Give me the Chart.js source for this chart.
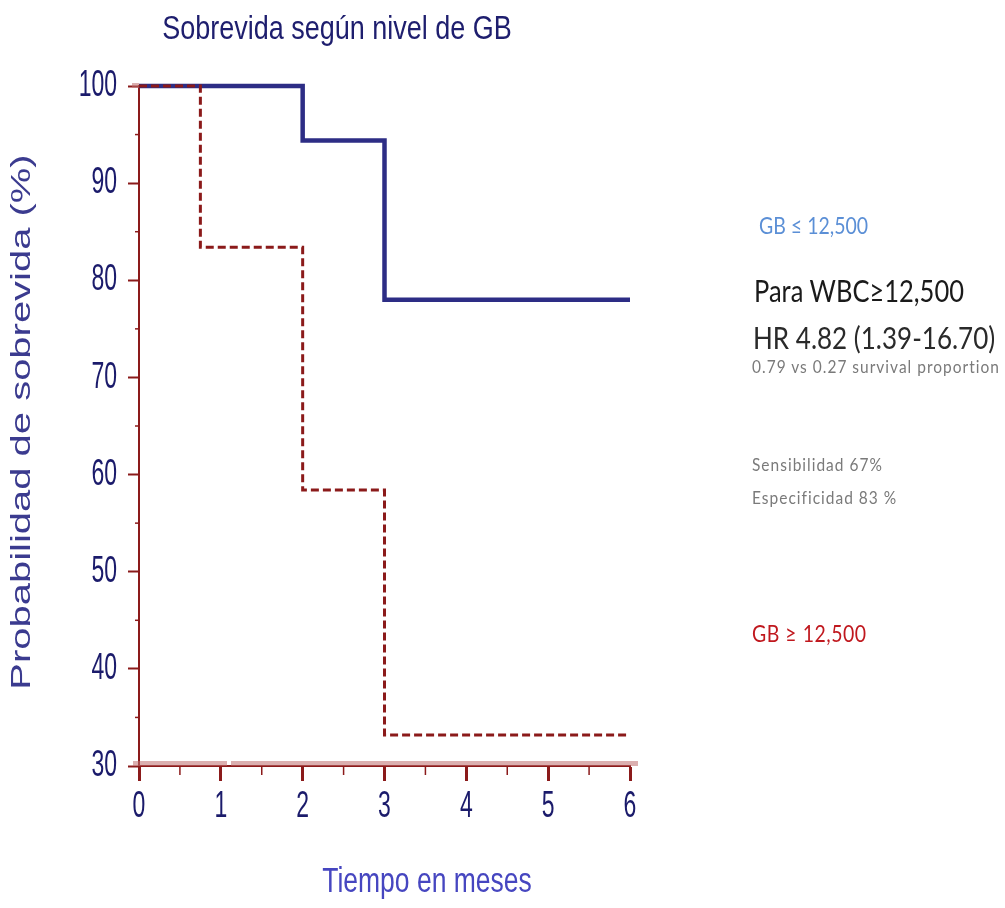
<!DOCTYPE html>
<html>
<head>
<meta charset="utf-8">
<script src="https://cdn.jsdelivr.net/npm/chart.js@4.4.1/dist/chart.umd.min.js"></script>
<style>
  html, body { margin: 0; padding: 0; background: #fff; }
  #wrap { position: relative; width: 1005px; height: 908px; }
  #km { position: absolute; left: 0; top: 0; }
  .note {
    position: absolute; left: 752px; white-space: nowrap; line-height: 1;
    font-family: Lato, "Open Sans", sans-serif;
    transform: translateY(-50%) scaleY(1.2); transform-origin: left center;
  }
  .small { font-size: 15.5px; letter-spacing: 1px; color: #7a7a7a; transform: translateY(-50%) scaleY(1.1); }
</style>
</head>
<body>
<div id="wrap">
  <canvas id="km" width="1005" height="908"></canvas>
  <div class="note" style="top:225px; left:759px; font-size:19.5px; color:#5b8fd6;">GB ≤ 12,500</div>
  <div class="note" style="top:291px; left:754px; font-size:25.5px; color:#1a1a1a;">Para WBC≥12,500</div>
  <div class="note" style="top:338px; left:753px; font-size:26px; color:#2a2a2a; transform: translateY(-50%) scaleY(1.15);">HR 4.82 (1.39-16.70)</div>
  <div class="note small" style="top:367px;">0.79 vs 0.27 survival proportion</div>
  <div class="note small" style="top:465px;">Sensibilidad 67%</div>
  <div class="note small" style="top:498px;">Especificidad 83 %</div>
  <div class="note" style="top:633px; font-size:19.5px; color:#c0181e; letter-spacing:0.5px;">GB ≥ 12,500</div>
</div>
<script>
// ================================
// DATA
// ================================
const chartTitle = "Sobrevida según nivel de GB";
const xTitle = "Tiempo en meses";
const yTitle = "Probabilidad de sobrevida (%)";

// GB <= 12,500 (solid blue)
const lowTimes = [0, 2, 3, 6];
const lowSurv = [100, 94.4, 78, 78];

// GB >= 12,500 (dashed red)
const highTimes = [0, 0.75, 2, 3, 6];
const highSurv = [100, 83.4, 58.4, 33.2, 33.2];

const xTicks = [0, 1, 2, 3, 4, 5, 6];
const yTicks = [30, 40, 50, 60, 70, 80, 90, 100];

const axisRed = "#8b1a1a";
const navy = "#1b1b6b";
const sans = "'Liberation Sans', Arial, sans-serif";

function toPoints(xs, ys) {
  return xs.map((x, i) => ({ x: x, y: ys[i] }));
}

// text squeezed like the original (tall, narrow glyphs)
function tallText(ctx, text, x, y, size, stretch, color, align) {
  ctx.save();
  ctx.font = size + "px " + sans;
  ctx.fillStyle = color;
  ctx.textAlign = align || "center";
  ctx.textBaseline = "middle";
  ctx.translate(x, y);
  ctx.scale(1, stretch);
  ctx.fillText(text, 0, 0);
  ctx.restore();
}

// ================================
// EXTRA DRAWING (titles, labels, minor ticks)
// ================================
const extras = {
  id: "extras",
  beforeDatasetsDraw(chart) {
    const { ctx, scales: { x, y } } = chart;
    ctx.save();
    // pale band along baseline
    ctx.fillStyle = "rgba(190,110,110,0.55)";
    ctx.fillRect(x.left - 6, y.bottom - 5, 94, 5);
    ctx.fillRect(x.left + 92, y.bottom - 5, x.right - x.left - 84, 5);
    ctx.fillRect(x.left - 7, y.top - 3, 7, 5);
    ctx.restore();
  },
  afterDraw(chart) {
    const { ctx, scales: { x, y } } = chart;
    ctx.save();
    // minor ticks
    ctx.strokeStyle = axisRed;
    ctx.lineWidth = 1.5;
    for (let i = 0; i < xTicks.length - 1; i++) {
      const px = x.getPixelForValue((xTicks[i] + xTicks[i + 1]) / 2);
      ctx.beginPath();
      ctx.moveTo(px, y.bottom);
      ctx.lineTo(px, y.bottom + 9);
      ctx.stroke();
    }
    for (let i = 0; i < yTicks.length - 1; i++) {
      const py = y.getPixelForValue((yTicks[i] + yTicks[i + 1]) / 2);
      ctx.beginPath();
      ctx.moveTo(x.left, py);
      ctx.lineTo(x.left - 4, py);
      ctx.stroke();
    }
    ctx.restore();

    // tick labels
    x.ticks.forEach(t => {
      tallText(ctx, String(t.value), x.getPixelForValue(t.value), y.bottom + 41, 23, 1.6, navy);
    });
    y.ticks.forEach(t => {
      tallText(ctx, String(t.value), x.left - 22, y.getPixelForValue(t.value), 23, 1.6, navy, "right");
    });

    // titles
    tallText(ctx, chartTitle, 337, 30, 27, 1.25, "#1e1e6e");
    tallText(ctx, xTitle, 427, 882, 26.5, 1.3, "#4646c0");

    // y title, stretched along its length
    ctx.save();
    ctx.translate(23, 422);
    ctx.rotate(-Math.PI / 2);
    ctx.scale(1.48, 1);
    ctx.font = "27px " + sans;
    ctx.fillStyle = "#3b3b8f";
    ctx.textAlign = "center";
    ctx.textBaseline = "middle";
    ctx.fillText(yTitle, 0, 0);
    ctx.restore();
  }
};

// ================================
// BUILD CHART
// ================================
new Chart(document.getElementById("km"), {
  type: "line",
  data: {
    datasets: [
      {
        label: "GB ≥ 12,500",
        data: toPoints(highTimes, highSurv),
        borderColor: axisRed,
        borderWidth: 3,
        borderDash: [8, 4],
        stepped: true,
        pointRadius: 0,
        fill: false,
        clip: false
      },
      {
        label: "GB ≤ 12,500",
        data: toPoints(lowTimes, lowSurv),
        borderColor: "#2d2d85",
        borderWidth: 4.5,
        stepped: true,
        pointRadius: 0,
        fill: false,
        clip: false
      }
    ]
  },
  options: {
    responsive: false,
    animation: false,
    layout: { padding: { top: 86, right: 375, left: 0, bottom: 0 } },
    plugins: {
      legend: { display: false },
      tooltip: { enabled: false }
    },
    scales: {
      x: {
        type: "linear",
        min: 0,
        max: 6,
        afterBuildTicks: s => { s.ticks = xTicks.map(v => ({ value: v })); },
        ticks: { display: false },
        grid: { drawOnChartArea: false, tickLength: 15, tickWidth: 3, tickColor: axisRed },
        border: { color: axisRed, width: 2 },
        afterFit: s => { s.height = 142; }
      },
      y: {
        type: "linear",
        min: 30,
        max: 100,
        afterBuildTicks: s => { s.ticks = yTicks.map(v => ({ value: v })); },
        ticks: { display: false },
        grid: { drawOnChartArea: false, tickLength: 11, tickWidth: 2, tickColor: axisRed },
        border: { color: axisRed, width: 2 },
        afterFit: s => { s.width = 139; }
      }
    }
  },
  plugins: [extras]
});
</script>
</body>
</html>
